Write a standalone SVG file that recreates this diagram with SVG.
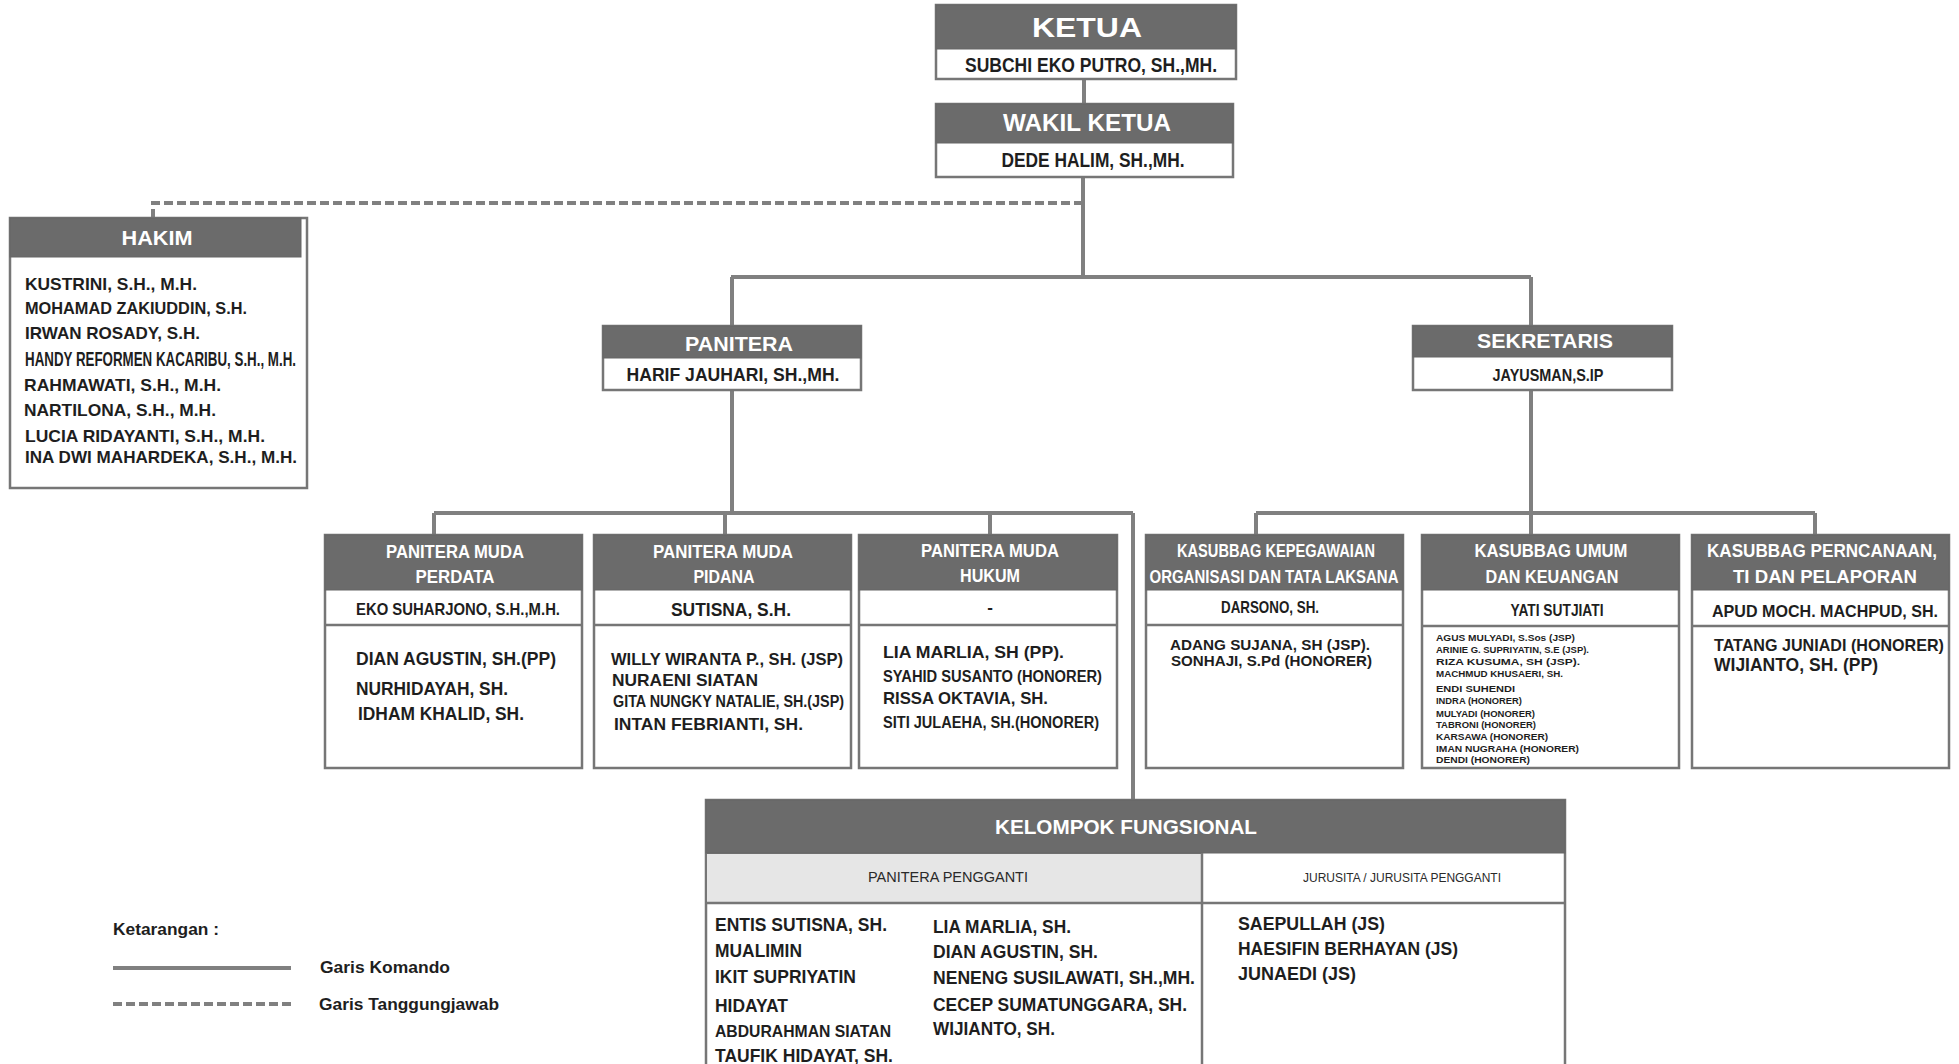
<svg xmlns="http://www.w3.org/2000/svg" width="1959" height="1064" viewBox="0 0 1959 1064">
<style>
.bx{fill:#fff;stroke:#767676;stroke-width:2.5}
.hd{fill:#6b6b6b;stroke:#666;stroke-width:1}
.sub{fill:#e6e6e6;stroke:#767676;stroke-width:2}
.ht{font-family:"Liberation Sans",Arial,sans-serif;font-weight:bold;fill:#fff;text-anchor:middle}
.nm{font-family:"Liberation Sans",Arial,sans-serif;font-weight:bold;fill:#1e1e1e}
.rg{font-family:"Liberation Sans",Arial,sans-serif;fill:#2a2a2a;text-anchor:middle}
.c{text-anchor:middle}
.ln{stroke:#808080;stroke-width:4;fill:none}
.dl{stroke:#808080;stroke-width:4;fill:none;stroke-dasharray:9 4}
.sep{stroke:#767676;stroke-width:2.5}
</style>

<g id="connectors">
<path class="ln" d="M1084 79 V104"/>
<path class="ln" d="M1083 177 V277"/>
<path class="ln" d="M731 277 H1531"/>
<path class="ln" d="M732 277 V326"/>
<path class="ln" d="M1531 277 V326"/>
<path class="ln" d="M732 390 V513"/>
<path class="ln" d="M434 513 H1133"/>
<path class="ln" d="M434 513 V535"/>
<path class="ln" d="M725 513 V535"/>
<path class="ln" d="M990 513 V535"/>
<path class="ln" d="M1133 513 V800"/>
<path class="ln" d="M1531 390 V535"/>
<path class="ln" d="M1256 513 H1815"/>
<path class="ln" d="M1256 513 V535"/>
<path class="ln" d="M1815 513 V535"/>
<path class="dl" d="M1083 203 H153 V218"/>
</g>

<g id="ketua">
<rect class="bx" x="936" y="5" width="300" height="74"/>
<rect class="hd" x="936" y="5" width="300" height="44"/>
<text class="ht" x="1087" y="37" font-size="28" textLength="110" lengthAdjust="spacingAndGlyphs">KETUA</text>
<text class="nm c" x="1091" y="72" font-size="20" textLength="252" lengthAdjust="spacingAndGlyphs">SUBCHI EKO PUTRO, SH.,MH.</text>
</g>

<g id="wakil-ketua">
<rect class="bx" x="936" y="104" width="297" height="73"/>
<rect class="hd" x="936" y="104" width="297" height="39"/>
<text class="ht" x="1087" y="131" font-size="23" textLength="168" lengthAdjust="spacingAndGlyphs">WAKIL KETUA</text>
<text class="nm c" x="1093" y="167" font-size="20" textLength="183" lengthAdjust="spacingAndGlyphs">DEDE HALIM, SH.,MH.</text>
</g>

<g id="hakim">
<rect class="bx" x="10" y="218" width="297" height="270"/>
<rect class="hd" x="10" y="218" width="291" height="39"/>
<text class="ht" x="157" y="245" font-size="21" textLength="71" lengthAdjust="spacingAndGlyphs">HAKIM</text>
<g class="nm" font-size="17">
<text x="25" y="290" textLength="172" lengthAdjust="spacingAndGlyphs">KUSTRINI, S.H., M.H.</text>
<text x="25" y="314" textLength="222" lengthAdjust="spacingAndGlyphs">MOHAMAD ZAKIUDDIN, S.H.</text>
<text x="25" y="339" textLength="175" lengthAdjust="spacingAndGlyphs">IRWAN ROSADY, S.H.</text>
<text x="25" y="366" textLength="271" lengthAdjust="spacingAndGlyphs" font-size="20.5">HANDY REFORMEN KACARIBU, S.H., M.H.</text>
<text x="24" y="391" textLength="197" lengthAdjust="spacingAndGlyphs">RAHMAWATI, S.H., M.H.</text>
<text x="24" y="416" textLength="192" lengthAdjust="spacingAndGlyphs">NARTILONA, S.H., M.H.</text>
<text x="25" y="442" textLength="240" lengthAdjust="spacingAndGlyphs">LUCIA RIDAYANTI, S.H., M.H.</text>
<text x="25" y="463" textLength="272" lengthAdjust="spacingAndGlyphs">INA DWI MAHARDEKA, S.H., M.H.</text>
</g>
</g>

<g id="panitera">
<rect class="bx" x="603" y="326" width="258" height="64"/>
<rect class="hd" x="603" y="326" width="258" height="32"/>
<text class="ht" x="739" y="351" font-size="21" textLength="108" lengthAdjust="spacingAndGlyphs">PANITERA</text>
<text class="nm c" x="733" y="381" font-size="18" textLength="213" lengthAdjust="spacingAndGlyphs">HARIF JAUHARI, SH.,MH.</text>
</g>

<g id="sekretaris">
<rect class="bx" x="1413" y="326" width="259" height="64"/>
<rect class="hd" x="1413" y="326" width="259" height="31"/>
<text class="ht" x="1545" y="348" font-size="21" textLength="136" lengthAdjust="spacingAndGlyphs">SEKRETARIS</text>
<text class="nm c" x="1548" y="381" font-size="17" textLength="111" lengthAdjust="spacingAndGlyphs">JAYUSMAN,S.IP</text>
</g>

<g id="pm-perdata">
<rect class="bx" x="325" y="535" width="257" height="233"/>
<rect class="hd" x="325" y="535" width="257" height="55"/>
<line class="sep" x1="325" y1="625" x2="582" y2="625"/>
<text class="ht" x="455" y="558" font-size="19" textLength="138" lengthAdjust="spacingAndGlyphs">PANITERA MUDA</text>
<text class="ht" x="455" y="583" font-size="19" textLength="79" lengthAdjust="spacingAndGlyphs">PERDATA</text>
<text class="nm c" x="458" y="615" font-size="17" textLength="204" lengthAdjust="spacingAndGlyphs">EKO SUHARJONO, S.H.,M.H.</text>
<g class="nm" font-size="17.5">
<text x="356" y="665" textLength="200" lengthAdjust="spacingAndGlyphs">DIAN AGUSTIN, SH.(PP)</text>
<text x="356" y="695" textLength="152" lengthAdjust="spacingAndGlyphs">NURHIDAYAH, SH.</text>
<text x="358" y="720" textLength="166" lengthAdjust="spacingAndGlyphs">IDHAM KHALID, SH.</text>
</g>
</g>

<g id="pm-pidana">
<rect class="bx" x="594" y="535" width="257" height="233"/>
<rect class="hd" x="594" y="535" width="257" height="55"/>
<line class="sep" x1="594" y1="625" x2="851" y2="625"/>
<text class="ht" x="723" y="558" font-size="19" textLength="140" lengthAdjust="spacingAndGlyphs">PANITERA MUDA</text>
<text class="ht" x="724" y="583" font-size="19" textLength="61" lengthAdjust="spacingAndGlyphs">PIDANA</text>
<text class="nm c" x="731" y="616" font-size="18" textLength="120" lengthAdjust="spacingAndGlyphs">SUTISNA, S.H.</text>
<g class="nm" font-size="17">
<text x="611" y="665" textLength="232" lengthAdjust="spacingAndGlyphs">WILLY WIRANTA P., SH. (JSP)</text>
<text x="612" y="686" textLength="146" lengthAdjust="spacingAndGlyphs">NURAENI SIATAN</text>
<text x="613" y="707" font-size="16" textLength="231" lengthAdjust="spacingAndGlyphs">GITA NUNGKY NATALIE, SH.(JSP)</text>
<text x="614" y="730" textLength="189" lengthAdjust="spacingAndGlyphs">INTAN FEBRIANTI, SH.</text>
</g>
</g>

<g id="pm-hukum">
<rect class="bx" x="859" y="535" width="258" height="233"/>
<rect class="hd" x="859" y="535" width="258" height="55"/>
<line class="sep" x1="859" y1="625" x2="1117" y2="625"/>
<text class="ht" x="990" y="557" font-size="19" textLength="138" lengthAdjust="spacingAndGlyphs">PANITERA MUDA</text>
<text class="ht" x="990" y="582" font-size="19" textLength="60" lengthAdjust="spacingAndGlyphs">HUKUM</text>
<text class="nm c" x="990" y="613" font-size="17">-</text>
<g class="nm" font-size="16">
<text x="883" y="658" font-size="17" textLength="181" lengthAdjust="spacingAndGlyphs">LIA MARLIA, SH (PP).</text>
<text x="883" y="682" textLength="219" lengthAdjust="spacingAndGlyphs">SYAHID SUSANTO (HONORER)</text>
<text x="883" y="704" font-size="17" textLength="165" lengthAdjust="spacingAndGlyphs">RISSA OKTAVIA, SH.</text>
<text x="883" y="728" textLength="216" lengthAdjust="spacingAndGlyphs">SITI JULAEHA, SH.(HONORER)</text>
</g>
</g>

<g id="kasubbag-kepegawaian">
<rect class="bx" x="1146" y="535" width="257" height="233"/>
<rect class="hd" x="1146" y="535" width="257" height="55"/>
<line class="sep" x1="1146" y1="625" x2="1403" y2="625"/>
<text class="ht" x="1276" y="557" font-size="19" textLength="198" lengthAdjust="spacingAndGlyphs">KASUBBAG KEPEGAWAIAN</text>
<text class="ht" x="1274" y="583" font-size="19" textLength="249" lengthAdjust="spacingAndGlyphs">ORGANISASI DAN TATA LAKSANA</text>
<text class="nm c" x="1270" y="613" font-size="17" textLength="98" lengthAdjust="spacingAndGlyphs">DARSONO, SH.</text>
<g class="nm" font-size="15">
<text x="1170" y="650" textLength="200" lengthAdjust="spacingAndGlyphs">ADANG SUJANA, SH (JSP).</text>
<text x="1171" y="666" textLength="201" lengthAdjust="spacingAndGlyphs">SONHAJI, S.Pd (HONORER)</text>
</g>
</g>

<g id="kasubbag-umum">
<rect class="bx" x="1422" y="535" width="257" height="233"/>
<rect class="hd" x="1422" y="535" width="257" height="55"/>
<line class="sep" x1="1422" y1="626" x2="1679" y2="626"/>
<text class="ht" x="1551" y="557" font-size="19" textLength="153" lengthAdjust="spacingAndGlyphs">KASUBBAG UMUM</text>
<text class="ht" x="1552" y="583" font-size="19" textLength="133" lengthAdjust="spacingAndGlyphs">DAN KEUANGAN</text>
<text class="nm c" x="1557" y="616" font-size="17" textLength="93" lengthAdjust="spacingAndGlyphs">YATI SUTJIATI</text>
<g class="nm" font-size="9.5">
<text x="1436" y="641" textLength="139" lengthAdjust="spacingAndGlyphs">AGUS MULYADI, S.Sos (JSP)</text>
<text x="1436" y="653" font-size="8.5" textLength="153" lengthAdjust="spacingAndGlyphs">ARINIE G. SUPRIYATIN, S.E  (JSP).</text>
<text x="1436" y="665" font-size="8.5" textLength="144" lengthAdjust="spacingAndGlyphs">RIZA KUSUMA, SH  (JSP).</text>
<text x="1436" y="677" font-size="8.5" textLength="127" lengthAdjust="spacingAndGlyphs">MACHMUD KHUSAERI, SH.</text>
<text x="1436" y="692" textLength="79" lengthAdjust="spacingAndGlyphs">ENDI SUHENDI</text>
<text x="1436" y="704" textLength="86" lengthAdjust="spacingAndGlyphs">INDRA (HONORER)</text>
<text x="1436" y="717" textLength="99" lengthAdjust="spacingAndGlyphs">MULYADI (HONORER)</text>
<text x="1436" y="728" textLength="100" lengthAdjust="spacingAndGlyphs">TABRONI (HONORER)</text>
<text x="1436" y="740" textLength="112" lengthAdjust="spacingAndGlyphs">KARSAWA (HONORER)</text>
<text x="1436" y="752" textLength="143" lengthAdjust="spacingAndGlyphs">IMAN NUGRAHA (HONORER)</text>
<text x="1436" y="763" textLength="94" lengthAdjust="spacingAndGlyphs">DENDI (HONORER)</text>
</g>
</g>

<g id="kasubbag-perencanaan">
<rect class="bx" x="1692" y="535" width="257" height="233"/>
<rect class="hd" x="1692" y="535" width="257" height="55"/>
<line class="sep" x1="1692" y1="626" x2="1949" y2="626"/>
<text class="ht" x="1822" y="557" font-size="19" textLength="230" lengthAdjust="spacingAndGlyphs">KASUBBAG PERNCANAAN,</text>
<text class="ht" x="1825" y="583" font-size="19" textLength="184" lengthAdjust="spacingAndGlyphs">TI DAN PELAPORAN</text>
<text class="nm c" x="1825" y="617" font-size="17" textLength="226" lengthAdjust="spacingAndGlyphs">APUD MOCH. MACHPUD, SH.</text>
<g class="nm" font-size="17">
<text x="1714" y="651" textLength="230" lengthAdjust="spacingAndGlyphs">TATANG JUNIADI (HONORER)</text>
<text x="1714" y="671" font-size="18.5" textLength="164" lengthAdjust="spacingAndGlyphs">WIJIANTO, SH. (PP)</text>
</g>
</g>

<g id="kelompok-fungsional">
<rect class="bx" x="706" y="800" width="859" height="280"/>
<rect class="sub" x="706" y="853" width="496" height="50"/>
<rect class="hd" x="706" y="800" width="859" height="53"/>
<line class="sep" x1="1202" y1="853" x2="1202" y2="1070"/>
<line class="sep" x1="706" y1="903" x2="1565" y2="903"/>
<text class="ht" x="1126" y="834" font-size="20" textLength="262" lengthAdjust="spacingAndGlyphs">KELOMPOK FUNGSIONAL</text>
<text class="rg" x="948" y="882" font-size="14" textLength="160" lengthAdjust="spacingAndGlyphs">PANITERA PENGGANTI</text>
<text class="rg" x="1402" y="882" font-size="12.5" textLength="198" lengthAdjust="spacingAndGlyphs">JURUSITA / JURUSITA PENGGANTI</text>
<g class="nm" font-size="17.5">
<text x="715" y="931" textLength="172" lengthAdjust="spacingAndGlyphs">ENTIS SUTISNA, SH.</text>
<text x="715" y="957" textLength="87" lengthAdjust="spacingAndGlyphs">MUALIMIN</text>
<text x="715" y="983" textLength="141" lengthAdjust="spacingAndGlyphs">IKIT SUPRIYATIN</text>
<text x="715" y="1012" textLength="73" lengthAdjust="spacingAndGlyphs">HIDAYAT</text>
<text x="715" y="1037" font-size="16.5" textLength="176" lengthAdjust="spacingAndGlyphs">ABDURAHMAN SIATAN</text>
<text x="715" y="1062" textLength="178" lengthAdjust="spacingAndGlyphs">TAUFIK HIDAYAT, SH.</text>
<text x="933" y="933" textLength="138" lengthAdjust="spacingAndGlyphs">LIA MARLIA, SH.</text>
<text x="933" y="958" textLength="165" lengthAdjust="spacingAndGlyphs">DIAN AGUSTIN, SH.</text>
<text x="933" y="984" textLength="262" lengthAdjust="spacingAndGlyphs">NENENG SUSILAWATI, SH.,MH.</text>
<text x="933" y="1011" textLength="254" lengthAdjust="spacingAndGlyphs">CECEP SUMATUNGGARA, SH.</text>
<text x="933" y="1035" textLength="122" lengthAdjust="spacingAndGlyphs">WIJIANTO, SH.</text>
<text x="1238" y="930" textLength="147" lengthAdjust="spacingAndGlyphs">SAEPULLAH (JS)</text>
<text x="1238" y="955" textLength="220" lengthAdjust="spacingAndGlyphs">HAESIFIN BERHAYAN (JS)</text>
<text x="1238" y="980" textLength="118" lengthAdjust="spacingAndGlyphs">JUNAEDI (JS)</text>
</g>
</g>

<g id="legend">
<text class="nm" x="113" y="935" font-size="17" textLength="106" lengthAdjust="spacingAndGlyphs">Ketarangan :</text>
<line class="ln" x1="113" y1="968" x2="291" y2="968"/>
<text class="nm" x="320" y="973" font-size="17" textLength="130" lengthAdjust="spacingAndGlyphs">Garis Komando</text>
<line class="dl" x1="113" y1="1004" x2="291" y2="1004"/>
<text class="nm" x="319" y="1010" font-size="17" textLength="180" lengthAdjust="spacingAndGlyphs">Garis Tanggungjawab</text>
</g>
</svg>
